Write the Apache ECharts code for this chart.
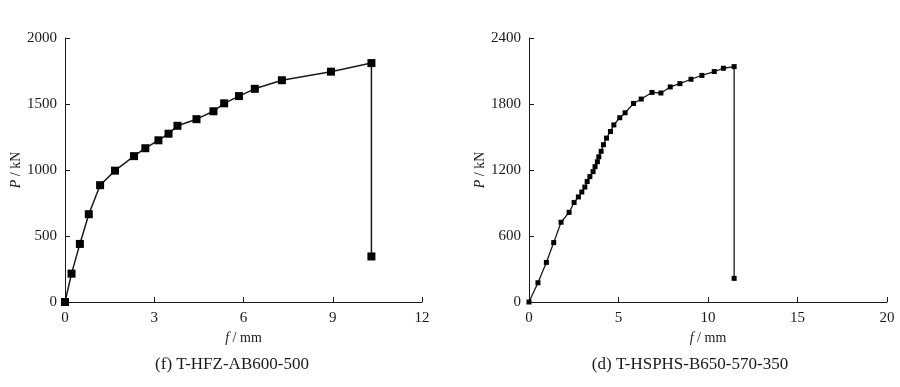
<!DOCTYPE html>
<html><head><meta charset="utf-8">
<script src="https://cdn.jsdelivr.net/npm/echarts@6/dist/echarts.min.js"></script>
<style>html,body{margin:0;padding:0;background:#fff}#c{width:900px;height:387px}</style>
</head><body><div id="c"></div>
<script>
// Left panel (f) T-HFZ-AB600-500
const leftF = [0, 0.22, 0.5, 0.8, 1.18, 1.68, 2.32, 2.7, 3.14, 3.48, 3.78, 4.42, 4.99, 5.35, 5.85, 6.38, 7.29, 8.94, 10.3, 10.3];
const leftP = [0, 215, 440, 665, 885, 995, 1105, 1165, 1225, 1275, 1335, 1385, 1445, 1505, 1560, 1615, 1680, 1745, 1810, 345];
// Right panel (d) T-HSPHS-B650-570-350
const rightF = [0, 0.5, 0.97, 1.38, 1.79, 2.24, 2.52, 2.76, 2.95, 3.12, 3.25, 3.4, 3.58, 3.69, 3.82, 3.9, 4.03, 4.16, 4.33, 4.55, 4.74, 5.07, 5.37, 5.84, 6.27, 6.87, 7.37, 7.89, 8.43, 9.05, 9.66, 10.35, 10.86, 11.46, 11.46];
const rightP = [0, 175, 360, 540, 725, 815, 905, 955, 1000, 1045, 1095, 1140, 1185, 1230, 1275, 1320, 1370, 1430, 1490, 1550, 1610, 1675, 1720, 1805, 1845, 1905, 1900, 1955, 1985, 2025, 2060, 2095, 2125, 2140, 215];
const titles = ['(f) T-HFZ-AB600-500', '(d) T-HSPHS-B650-570-350'];
const xLabel = '{i|f} / mm';
const yLabel = '{i|P} / kN';

const font = 'Liberation Serif';
const ink = '#1a1a1a';
const zip = (a, b) => a.map((v, i) => [v, b[i]]);
const rich = { i: { fontStyle: 'italic', fontFamily: font, fontSize: 14, color: ink } };

function xAxis(gi, max, interval) {
  return {
    gridIndex: gi, type: 'value', min: 0, max: max, interval: interval,
    name: xLabel, nameLocation: 'middle', nameGap: 29,
    nameTextStyle: { fontFamily: font, fontSize: 14, color: ink, rich: rich },
    axisLine: { show: true, onZero: false, lineStyle: { color: ink, width: 1 } },
    axisTick: { show: true, inside: true, length: 5, lineStyle: { color: ink } },
    axisLabel: { fontFamily: font, fontSize: 15, color: ink, margin: 9, formatter: v => String(v) },
    splitLine: { show: false }
  };
}
function yAxis(gi, max, interval, gap) {
  return {
    gridIndex: gi, type: 'value', min: 0, max: max, interval: interval,
    name: yLabel, nameLocation: 'middle', nameGap: gap, nameRotate: 90,
    nameTextStyle: { fontFamily: font, fontSize: 14, color: ink, rich: rich },
    axisLine: { show: true, onZero: false, lineStyle: { color: ink, width: 1 } },
    axisTick: { show: true, inside: true, length: 5, lineStyle: { color: ink } },
    axisLabel: { fontFamily: font, fontSize: 15, color: ink, margin: 8, formatter: v => String(v) },
    splitLine: { show: false }
  };
}

const chart = echarts.init(document.getElementById('c'), null, { renderer: 'canvas' });
chart.setOption({
  animation: false,
  backgroundColor: '#fff',
  title: [
    { text: titles[0], left: 227, top: 351, textAlign: 'center', textStyle: { fontFamily: font, fontSize: 17, fontWeight: 'normal', color: ink } },
    { text: titles[1], left: 685, top: 351, textAlign: 'center', textStyle: { fontFamily: font, fontSize: 17, fontWeight: 'normal', color: ink } }
  ],
  grid: [
    { left: 65, right: 478, top: 38, bottom: 85 },
    { left: 529, right: 13, top: 38, bottom: 85 }
  ],
  xAxis: [xAxis(0, 12, 3), xAxis(1, 20, 5)],
  yAxis: [yAxis(0, 2000, 500, 42), yAxis(1, 2400, 600, 42)],
  series: [
    { type: 'line', xAxisIndex: 0, yAxisIndex: 0, data: zip(leftF, leftP),
      symbol: 'rect', symbolSize: 8, lineStyle: { color: ink, width: 1.5 },
      itemStyle: { color: '#000' } },
    { type: 'line', xAxisIndex: 1, yAxisIndex: 1, data: zip(rightF, rightP),
      symbol: 'rect', symbolSize: 5, lineStyle: { color: ink, width: 1.3 },
      itemStyle: { color: '#000' } }
  ]
});
</script></body></html>
